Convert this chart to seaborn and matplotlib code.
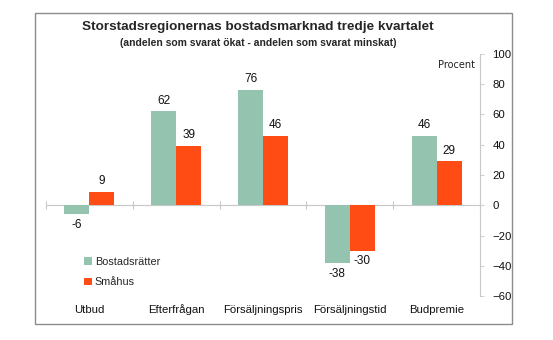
import matplotlib
matplotlib.use("Agg")
import matplotlib.pyplot as plt
import seaborn as sns
import pandas as pd
from matplotlib.patches import Rectangle

categories = ["Utbud", "Efterfrågan", "Försäljningspris", "Försäljningstid", "Budpremie"]
bostadsratter = [-6, 62, 76, -38, 46]
smahus = [9, 39, 46, -30, 29]
series_names = ["Bostadsrätter", "Småhus"]
yticks = [-60, -40, -20, 0, 20, 40, 60, 80, 100]

df = pd.DataFrame({
    "kategori": categories * 2,
    "värde": bostadsratter + smahus,
    "typ": [series_names[0]] * len(categories) + [series_names[1]] * len(categories),
})

sns.set_style("white")
plt.rcParams["font.family"] = ["Liberation Sans", "DejaVu Sans"]

fig = plt.figure(figsize=(5.53, 3.40), dpi=100)
ax = fig.add_axes([46 / 553, 1 - 296 / 340, (480 - 46) / 553, (296 - 54) / 340])

palette = {series_names[0]: "#94C4B0", series_names[1]: "#FF4C14"}
sns.barplot(data=df, x="kategori", y="värde", hue="typ", order=categories,
            hue_order=series_names, palette=palette, width=0.575,
            saturation=1, linewidth=0, ax=ax)

for cont in ax.containers:
    ax.bar_label(cont, fmt="%d", padding=3.5, fontsize=8.5, color="#111111")

ax.set_ylim(-60, 100)
ax.set_xlim(-0.5, len(categories) - 0.5)
ax.set_xlabel("")
ax.set_ylabel("")

# right-hand value axis
ax.yaxis.tick_right()
ax.set_yticks(yticks)
ax.tick_params(axis="y", which="both", right=True, length=3, width=0.6,
               color="#C8C8C8", labelsize=8.2, pad=6, labelcolor="#111111")
ax.tick_params(axis="x", length=0, labelsize=8.2, pad=12, labelcolor="#111111")
for lbl in ax.get_xticklabels():
    lbl.set_verticalalignment("baseline")
for side in ["top", "left", "bottom"]:
    ax.spines[side].set_visible(False)
ax.spines["right"].set_color("#C8C8C8")
ax.spines["right"].set_linewidth(0.8)

# zero line with category separators
ax.axhline(0, color="#C8C8C8", lw=0.8, zorder=0)
bounds = [i - 0.5 for i in range(len(categories) + 1)]
ax.plot(bounds, [0] * len(bounds), ls="none", marker="|", ms=6, mew=0.8,
        color="#C8C8C8", zorder=0, clip_on=False)

fig.text(475 / 553, 1 - 65 / 340, "Procent", fontsize=7, family="DejaVu Sans",
         color="#222222", ha="right", va="center")

leg = ax.legend(loc="lower left", bbox_to_anchor=(0.065, -0.005), frameon=False,
                fontsize=7.8, handlelength=0.7, handleheight=0.7,
                handletextpad=0.3, labelspacing=1.0)

fig.text(258 / 553, 1 - 27 / 340, "Storstadsregionernas bostadsmarknad tredje kvartalet",
         ha="center", va="center", fontsize=9.7, fontweight="bold")
fig.text(258 / 553, 1 - 43 / 340, "(andelen som svarat ökat - andelen som svarat minskat)",
         ha="center", va="center", fontsize=7.5, fontweight="bold")

fig.patches.append(Rectangle((35 / 553, 1 - 324 / 340), (512 - 35) / 553, (324 - 13) / 340,
                             transform=fig.transFigure, fill=False,
                             edgecolor="#8C8C8C", lw=1.0, figure=fig))

fig.savefig("out.png", dpi=100)
